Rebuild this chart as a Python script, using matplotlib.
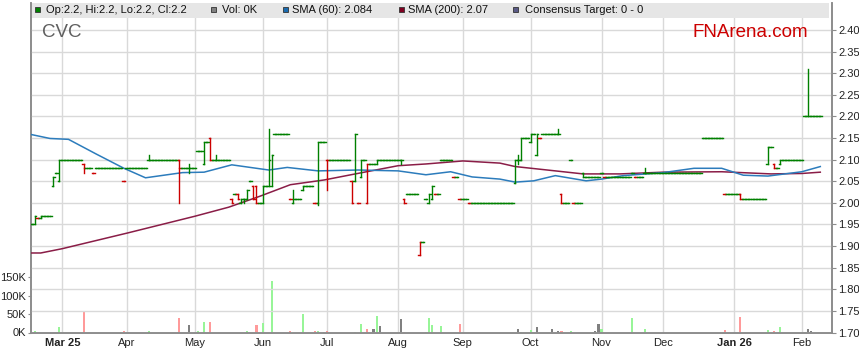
import numpy as np
import pandas as pd
import matplotlib
matplotlib.use("Agg")
import matplotlib.pyplot as plt
import matplotlib.transforms as mtransforms
from matplotlib.patches import Rectangle
from matplotlib.collections import LineCollection

plt.rcParams['font.family'] = ['Liberation Sans', 'DejaVu Sans']

# ---------------- data ----------------
start_date = "2025-02-17"
# price runs: (days, price) = flat days, (1, open, high, low, close) = traded bar
price_runs = [
    (1, 1.95), (1, 1.95, 1.97, 1.95, 1.97), (1, 1.965), (1, 1.965, 1.97, 1.965, 1.97), (3, 1.97),
    (1, 2.04, 2.06, 2.04, 2.06), (1, 2.07), (1, 2.05, 2.10, 2.05, 2.10), (7, 2.10),
    (1, 2.09, 2.09, 2.07, 2.08), (2, 2.08), (1, 2.07), (9, 2.08), (1, 2.05), (7, 2.08),
    (1, 2.10, 2.11, 2.10, 2.10), (9, 2.10), (1, 2.10, 2.10, 2.00, 2.08), (2, 2.08),
    (1, 2.08, 2.09, 2.07, 2.08), (2, 2.08), (2, 2.12), (1, 2.09, 2.14, 2.09, 2.14), (1, 2.14),
    (1, 2.15, 2.15, 2.10, 2.10), (1, 2.10), (1, 2.10, 2.11, 2.10, 2.10), (4, 2.10),
    (1, 2.01, 2.01, 2.00, 2.00), (1, 2.02), (1, 2.02, 2.02, 2.01, 2.01), (1, 2.00, 2.01, 2.00, 2.01),
    (1, 2.01, 2.01, 2.00, 2.01), (1, 2.01, 2.03, 2.01, 2.03), (1, 2.05), (1, 2.04, 2.04, 2.01, 2.01),
    (1, 2.04, 2.04, 2.00, 2.00), (1, 2.00), (1, 2.00, 2.04, 2.00, 2.04), (1, 2.04),
    (1, 2.04, 2.17, 2.04, 2.10), (1, 2.04, 2.11, 2.04, 2.11), (5, 2.16), (1, 2.01),
    (1, 2.00, 2.03, 2.00, 2.01), (2, 2.01), (1, 2.03, 2.04, 2.03, 2.04), (3, 2.04), (1, 2.00),
    (1, 2.00, 2.14, 1.995, 2.14), (2, 2.14), (1, 2.10, 2.10, 2.03, 2.10), (7, 2.10),
    (1, 2.05, 2.05, 2.00, 2.00), (1, 2.05, 2.16, 2.05, 2.16), (1, 2.00), (1, 2.06, 2.10, 2.06, 2.10),
    (1, 2.10), (1, 2.00, 2.09, 2.00, 2.09), (2, 2.09), (1, 2.09, 2.10, 2.09, 2.10), (7, 2.10),
    (1, 2.10, 2.10, 2.09, 2.10), (1, 2.01, 2.01, 2.00, 2.00), (4, 2.02), (1, 1.88, 1.91, 1.88, 1.91),
    (1, 1.91), (1, 2.01), (1, 2.00, 2.02, 2.00, 2.02), (1, 2.01, 2.04, 2.01, 2.04), (2, 2.02),
    (4, 2.10), (2, 2.06), (3, 2.01), (15, 2.00), (1, 2.045, 2.10, 2.045, 2.10),
    (1, 2.10, 2.11, 2.09, 2.10), (1, 2.10, 2.15, 2.10, 2.15), (2, 2.15), (1, 2.14, 2.16, 2.14, 2.16),
    (1, 2.16), (1, 2.11, 2.16, 2.11, 2.16), (1, 2.15), (5, 2.16), (1, 2.16, 2.17, 2.16, 2.16),
    (1, 2.02, 2.02, 2.00, 2.00), (2, 2.00), (1, 2.10), (3, 2.00), (1, 2.07, 2.07, 2.06, 2.06),
    (5, 2.06), (1, 2.07), (9, 2.06), (1, 2.07), (3, 2.06), (1, 2.07, 2.08, 2.07, 2.07), (18, 2.07),
    (7, 2.15), (5, 2.02), (1, 2.02, 2.02, 2.01, 2.01), (8, 2.01), (1, 2.09, 2.13, 2.09, 2.13),
    (1, 2.13), (1, 2.09, 2.09, 2.08, 2.08), (1, 2.08), (1, 2.09, 2.10, 2.09, 2.10), (7, 2.10),
    (1, 2.20), (1, 2.20, 2.31, 2.20, 2.20), (4, 2.20),
]

# volume (thousands) on given trading-day index
vol_day = [1, 9, 17, 30, 38, 48, 51, 54, 56, 58, 70, 73, 75, 78, 84, 88, 92, 93, 95, 96, 105, 107,
           109, 111, 112, 113, 120, 121, 128, 129, 130, 133, 139, 158, 159, 162, 164, 169, 171,
           172, 175, 183, 184, 185, 195, 199, 225, 230, 239, 241, 243, 251, 252, 253]
vol_k = [3, 14, 56, 3, 5, 40, 21, 5, 29, 29, 3, 21, 26, 141, 5, 51, 3, 3, 2, 5, 2, 24,
         9, 10, 45, 18, 37, 2, 2, 40, 21, 18, 24, 9, 2, 6, 15, 9, 3,
         5, 5, 5, 24, 10, 40, 10, 7, 43, 7, 3, 15, 2, 9, 5]

# moving averages sampled at trading-day index
sma60_day = [0, 6, 12, 21, 30, 37, 43, 49, 56, 65, 77, 83, 93, 106, 119, 128, 136, 143, 152,
             157, 163, 170, 180, 185, 192, 205, 215, 224, 231, 239, 250, 256]
sma60_val = [2.158, 2.149, 2.147, 2.113, 2.080, 2.058, 2.064, 2.070, 2.071, 2.088, 2.076, 2.082,
             2.074, 2.076, 2.074, 2.065, 2.072, 2.060, 2.055, 2.048, 2.051, 2.063, 2.051, 2.055,
             2.063, 2.070, 2.080, 2.080, 2.064, 2.062, 2.072, 2.084]
sma200_day = [0, 3, 10, 31, 53, 64, 74, 84, 95, 108, 119, 128, 140, 152, 157, 170, 179, 191,
              205, 224, 240, 250, 256]
sma200_val = [1.884, 1.884, 1.894, 1.930, 1.969, 1.990, 2.015, 2.042, 2.053, 2.071, 2.086, 2.090,
              2.097, 2.092, 2.084, 2.074, 2.067, 2.067, 2.071, 2.072, 2.067, 2.068, 2.071]

legend_items = [
    ("Op:2.2, Hi:2.2, Lo:2.2, Cl:2.2", "#008000", 35.0, 46.5),
    ("Vol: 0K", "#808080", 211.0, 221.5),
    ("SMA (60): 2.084", "#1a6bb0", 282.7, 292.5),
    ("SMA (200): 2.07", "#800020", 399.0, 407.5),
    ("Consensus Target: 0 - 0", "#5a5a86", 513.3, 525.0),
]
price_ticks = [1.70, 1.75, 1.80, 1.85, 1.90, 1.95, 2.00, 2.05, 2.10, 2.15, 2.20, 2.25, 2.30, 2.35, 2.40]
vol_ticks = [0, 50, 100, 150]

# ---------------- expand runs ----------------
opens, highs, lows, closes = [], [], [], []
for r in price_runs:
    if len(r) == 2:
        n, p = r
        for _ in range(n):
            opens.append(p); highs.append(p); lows.append(p); closes.append(p)
    else:
        _, o, h, l, c = r
        opens.append(o); highs.append(h); lows.append(l); closes.append(c)
opens = np.array(opens); highs = np.array(highs); lows = np.array(lows); closes = np.array(closes)
N = len(closes)
prev = np.concatenate([[closes[0]], closes[:-1]])

GREEN, RED = "#008000", "#cc0000"
bar_col = np.where(closes < prev - 1e-9, RED, GREEN)

dates = pd.bdate_range(start_date, periods=N + 5)

# ---------------- figure ----------------
W, H = 859, 363
fig = plt.figure(figsize=(W / 100, H / 100), dpi=100)
L, R, T, B = 31.2, 831.7, 3.0, 332.5
ax_v = fig.add_axes([L / W, (H - B) / H, (R - L) / W, (B - T) / H])
ax = ax_v.twinx()
ax.set_zorder(ax_v.get_zorder() + 1)
ax.patch.set_visible(False)

xmin, xmax = -0.1, 259.7
ax_v.set_xlim(xmin, xmax)
ax.set_ylim(1.70, 2.4625)
ax_v.set_ylim(0, 895)

# grid
GRID = "#d9d9d9"
for p in price_ticks:
    ax.axhline(p, color=GRID, lw=1.0, zorder=0)
m_pos, m_lab = [], []
for i in range(1, len(dates)):
    if dates[i].month != dates[i - 1].month and i < xmax:
        m_pos.append(i)
        d = dates[i]
        if len(m_pos) == 1 or d.month == 1:
            m_lab.append(d.strftime("%b %y"))
        else:
            m_lab.append(d.strftime("%b"))
for x in m_pos:
    ax_v.axvline(x, color=GRID, lw=1.0, zorder=0)

# volume bars
vcols = []
for d in vol_day:
    if closes[d] > prev[d] + 1e-9:
        vcols.append("#98f598")
    elif closes[d] < prev[d] - 1e-9:
        vcols.append("#ff9a9a")
    else:
        vcols.append("#808080")
ax_v.bar(vol_day, vol_k, width=0.7, color=vcols, zorder=2, linewidth=0)

# SMA lines
ax.plot(sma200_day, sma200_val, color="#8a1d47", lw=1.1, zorder=3)
ax.plot(sma60_day, sma60_val, color="#2c7cbc", lw=1.1, zorder=3)

# OHLC bars
segs, cols = [], []
for i in range(N):
    if highs[i] > lows[i]:
        segs.append([(i, lows[i]), (i, highs[i])]); cols.append(bar_col[i])
    segs.append([(i - 0.5, opens[i]), (i, opens[i])]); cols.append(bar_col[i])
    segs.append([(i, closes[i]), (i + 0.5, closes[i])]); cols.append(bar_col[i])
lc = LineCollection(segs, colors=cols, linewidths=1.0, zorder=4, capstyle="projecting")
ax.add_collection(lc)

# axes styling
SP = "#8c8c8c"
for a in (ax, ax_v):
    a.spines["top"].set_visible(False)
    for s in ("left", "right", "bottom"):
        a.spines[s].set_color(SP)
        a.spines[s].set_linewidth(1.2)

ax.set_yticks(price_ticks)
ax.set_yticklabels([f"{p:.2f}" for p in price_ticks])
ax.tick_params(axis="y", direction="out", length=3, width=0.8, color=SP, pad=1.5,
               labelsize=8, labelcolor="#222222")
ax_v.set_yticks(vol_ticks)
ax_v.set_yticklabels([f"{v}K" for v in vol_ticks])
ax_v.tick_params(axis="y", direction="out", length=2, width=0.8, color=SP, pad=1.5,
                 labelsize=8, labelcolor="#222222")
ax_v.set_xticks(m_pos)
ax_v.set_xticklabels(m_lab)
ax_v.tick_params(axis="x", length=0, pad=4, labelsize=8, labelcolor="#222222")
for t in ax_v.get_xticklabels():
    if " " in t.get_text():
        t.set_fontweight("bold")

# header band & texts (pixel coords, origin top-left)
pix = mtransforms.Affine2D().scale(1 / W, -1 / H).translate(0, 1) + fig.transFigure
fig.add_artist(Rectangle((L + 0.6, T), R - L - 3.5, 15.0, transform=pix, facecolor="#e6e6e6",
                         edgecolor="none", zorder=5))
for label, col, sx, tx in legend_items:
    fig.add_artist(Rectangle((sx, 7.3), 5.0, 5.0, transform=pix, facecolor=col,
                             edgecolor="#333333", lw=0.6, zorder=6))
    fig.text(tx, 10.3, label, transform=pix, fontsize=8, va="center", ha="left",
             color="#111111", zorder=7)

fig.text(42.3, 32.2, "CVC", transform=pix, fontsize=13.5, va="center", ha="left", color="#5f5f5f")
fig.text(808.5, 32.2, "FNArena.com", transform=pix, fontsize=13.5, va="center", ha="right",
         color="#cc0000")

fig.savefig("out.png", dpi=100)
